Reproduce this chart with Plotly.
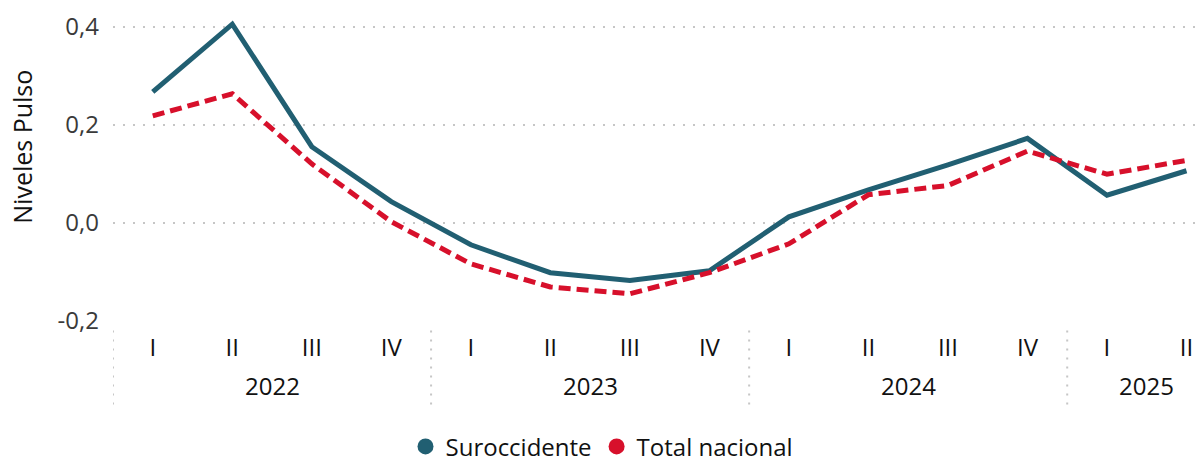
import plotly.graph_objects as go

quarters = ["I", "II", "III", "IV", "I", "II", "III", "IV", "I", "II", "III", "IV", "I", "II"]
years = ["2022", "2023", "2024", "2025"]
year_counts = [4, 4, 4, 2]
y_ticks = [-0.2, 0.0, 0.2, 0.4]
y_tick_text = ["-0,2", "0,0", "0,2", "0,4"]

suroccidente = [0.267, 0.405, 0.155, 0.043, -0.045, -0.102, -0.118, -0.098,
                0.012, 0.067, 0.118, 0.172, 0.056, 0.106]
total_nacional = [0.218, 0.263, 0.120, 0.002, -0.084, -0.131, -0.145, -0.102,
                  -0.043, 0.057, 0.076, 0.146, 0.099, 0.127]

TEAL = "#215F72"
RED = "#D7102B"
GRID = "#C6C6C6"
FONT = "Open Sans"

x = list(range(len(quarters)))

fig = go.Figure()
fig.add_trace(go.Scatter(x=x, y=suroccidente, mode="lines", name="Suroccidente",
                         line=dict(color=TEAL, width=5), showlegend=False))
fig.add_trace(go.Scatter(x=x, y=total_nacional, mode="lines", name="Total nacional",
                         line=dict(color=RED, width=5, dash="12px,6px"), showlegend=False))
# legend entries as circles
for name, col in [("Suroccidente", TEAL), ("Total nacional", RED)]:
    fig.add_trace(go.Scatter(x=[None], y=[None], mode="markers", name=name,
                             marker=dict(color=col, size=20)))

# year labels + dotted separators
start = 0
seps = [-0.5]
for yr, n in zip(years, year_counts):
    fig.add_annotation(x=start + (n - 1) / 2, y=-0.205, xref="x", yref="paper",
                       yanchor="middle", text=yr, showarrow=False,
                       font=dict(size=24, color="#111"))
    start += n
    seps.append(start - 0.5)
for s in seps[:-1]:
    fig.add_shape(type="line", x0=s, x1=s, y0=-0.03, y1=-0.27, xref="x", yref="paper",
                  line=dict(color=GRID, width=2, dash="2px,7px"))

# y axis title (placed a bit above centre like the original)
fig.add_annotation(x=-0.084, y=0.554, xref="paper", yref="paper", text="Niveles Pulso",
                   textangle=-90, showarrow=False, xanchor="center", yanchor="middle",
                   font=dict(size=25, color="#111"))

fig.update_layout(
    width=1204, height=463,
    margin=dict(l=113, r=4, t=7, b=142),
    paper_bgcolor="white", plot_bgcolor="white",
    font=dict(family=FONT, size=24, color="#111"),
    showlegend=True,
    legend=dict(orientation="h", xref="container", yref="container",
                x=0.5, xanchor="center", y=0.035, yanchor="middle",
                font=dict(size=24, color="#111"), itemsizing="trace"),
    xaxis=dict(range=[-0.5, 13.17], tickmode="array", tickvals=x, ticktext=quarters,
               showgrid=False, zeroline=False, showline=False, ticks="",
               ticklabelstandoff=10, ticklabeloverflow="allow",
               tickfont=dict(size=24, color="#111")),
    yaxis=dict(range=[-0.2005, 0.44], tickmode="array", tickvals=y_ticks, ticktext=y_tick_text,
               showgrid=True, gridcolor=GRID, griddash="2px,8px",
               gridwidth=2, zeroline=False, showline=False, ticks="",
               ticklabelstandoff=13, tickfont=dict(size=24, color="#3A3A3A")),
)

fig.write_html("out.html", config={"displayModeBar": False},
               post_script="document.body.style.margin='0';")
